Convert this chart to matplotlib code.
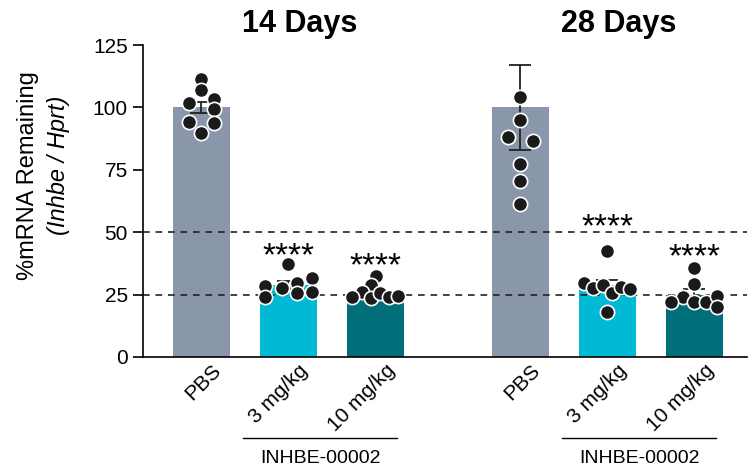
import numpy as np
import matplotlib
matplotlib.use("Agg")
import matplotlib.pyplot as plt
import matplotlib.transforms as mtransforms

plt.rcParams["font.family"] = ["Liberation Sans", "DejaVu Sans"]

# ---- data ----
groups = ["14 Days", "28 Days"]
treatments = ["PBS", "3 mg/kg", "10 mg/kg"]
drug_label = "INHBE-00002"

means_14 = [100.0, 28.8, 24.5]
errs_14 = [2.3, 1.6, 1.5]
means_28 = [100.0, 28.8, 25.0]
errs_28 = [17.0, 2.2, 2.4]

points_14 = [
    [111.2, 107.0, 101.6, 103.2, 99.2, 94.3, 93.6, 89.6],
    [37.3, 28.4, 24.2, 27.5, 29.8, 25.5, 31.5, 26.2],
    [32.5, 28.7, 25.9, 23.9, 23.8, 25.5, 23.9, 24.4],
]
points_28 = [
    [104.3, 95.0, 88.0, 86.7, 77.3, 70.7, 61.3],
    [42.6, 29.5, 27.5, 28.8, 25.8, 27.9, 27.1, 18.2],
    [35.8, 29.2, 24.2, 21.9, 21.9, 21.9, 24.4, 20.2],
]

# significance marks: text and height of the marks (y value)
sig_14 = ["", "****", "****"]
sig_14_y = [0, 44.0, 40.0]
sig_28 = ["", "****", "****"]
sig_28_y = [0, 55.7, 43.7]

ref_lines = [50, 25]

# ---- layout / style ----
colors = ["#8A97AB", "#00BAD5", "#006F79"]
x_14 = np.array([1.0, 2.0, 3.0])
x_28 = np.array([4.667, 5.667, 6.667])
bar_w = 0.655
dot_step = 0.144

# swarm offsets (in dot widths) for each point
offs_14 = [
    [0, 0, -1, 1, 1, -1, 1, 0],
    [0, -1.8, -1.8, -0.5, 0.7, 0.7, 1.9, 1.9],
    [0.1, -0.35, -1.05, -1.8, -0.35, 0.4, 1.15, 1.85],
]
offs_28 = [
    [0, 0, -0.95, 1.0, 0, 0, 0],
    [0, -1.85, -1.1, -0.35, 0.4, 1.1, 1.85, 0],
    [0, 0, -0.9, -1.85, 0, 0.95, 1.8, 1.8],
]

fig = plt.figure(figsize=(7.48, 4.68), dpi=100)
ax = fig.add_axes([0.1912, 0.2372, 0.8075, 0.6666])

for xs, means, errs, pts, offs, sig, sig_y in [
    (x_14, means_14, errs_14, points_14, offs_14, sig_14, sig_14_y),
    (x_28, means_28, errs_28, points_28, offs_28, sig_28, sig_28_y),
]:
    ax.bar(xs, means, width=bar_w, color=colors, zorder=1)
    ax.errorbar(xs, means, yerr=errs, fmt="none", ecolor="#222222",
                elinewidth=1.3, capsize=8, capthick=1.3, zorder=4)
    for i in range(len(xs)):
        px = xs[i] + np.array(offs[i]) * dot_step
        ax.scatter(px, pts[i], s=105, color="#1a1a1a", edgecolors="white",
                   linewidths=1.2, zorder=5)
        if sig[i]:
            ax.text(xs[i], sig_y[i] - 7.3, sig[i], ha="center", va="baseline",
                    fontsize=24, zorder=6)

for y in ref_lines:
    ax.axhline(y, color="#222222", lw=1.2, dashes=(4, 3.5), zorder=2)

ax.set_xlim(0.333, 7.276)
ax.set_ylim(0, 125)
ax.set_yticks([0, 25, 50, 75, 100, 125])
ax.tick_params(axis="y", labelsize=15, length=7, width=1.2, pad=4)
ax.spines["top"].set_visible(False)
ax.spines["right"].set_visible(False)
ax.spines["left"].set_linewidth(1.2)
ax.spines["bottom"].set_linewidth(1.2)

all_x = np.concatenate([x_14, x_28])
ax.set_xticks(all_x)
ax.set_xticklabels(treatments + treatments, rotation=45, ha="right",
                   rotation_mode="anchor", fontsize=15)
ax.tick_params(axis="x", length=0, pad=8)
shift = mtransforms.ScaledTranslation(10 / 100, 7 / 100, fig.dpi_scale_trans)
for lab in ax.get_xticklabels():
    lab.set_transform(lab.get_transform() + shift)

trans = mtransforms.blended_transform_factory(ax.transData, ax.transAxes)

# group titles
for xs, title in zip([x_14, x_28], groups):
    ax.text(xs[1] + 0.13, 1.02, title, transform=trans,
            ha="center", va="bottom", fontsize=22, fontweight="bold")

# drug bracket under the dosed groups
for xs in [x_14, x_28]:
    x0 = xs[1] - 0.517
    x1 = xs[2] + 0.253
    ax.plot([x0, x1], [-0.26, -0.26], color="black", lw=1.0,
            transform=trans, clip_on=False)
    ax.text((x0 + x1) / 2, -0.325, drug_label, transform=trans,
            ha="center", va="center", fontsize=14)

# y label (two lines)
fig.text(28 / 748, 1 - 176 / 468, "%mRNA Remaining", rotation=90,
         ha="center", va="center", fontsize=17)
fig.text(59 / 748, 1 - 165 / 468, "(Inhbe / Hprt)", rotation=90,
         ha="center", va="center", fontsize=17, style="italic")

fig.savefig("out.png", dpi=100)
